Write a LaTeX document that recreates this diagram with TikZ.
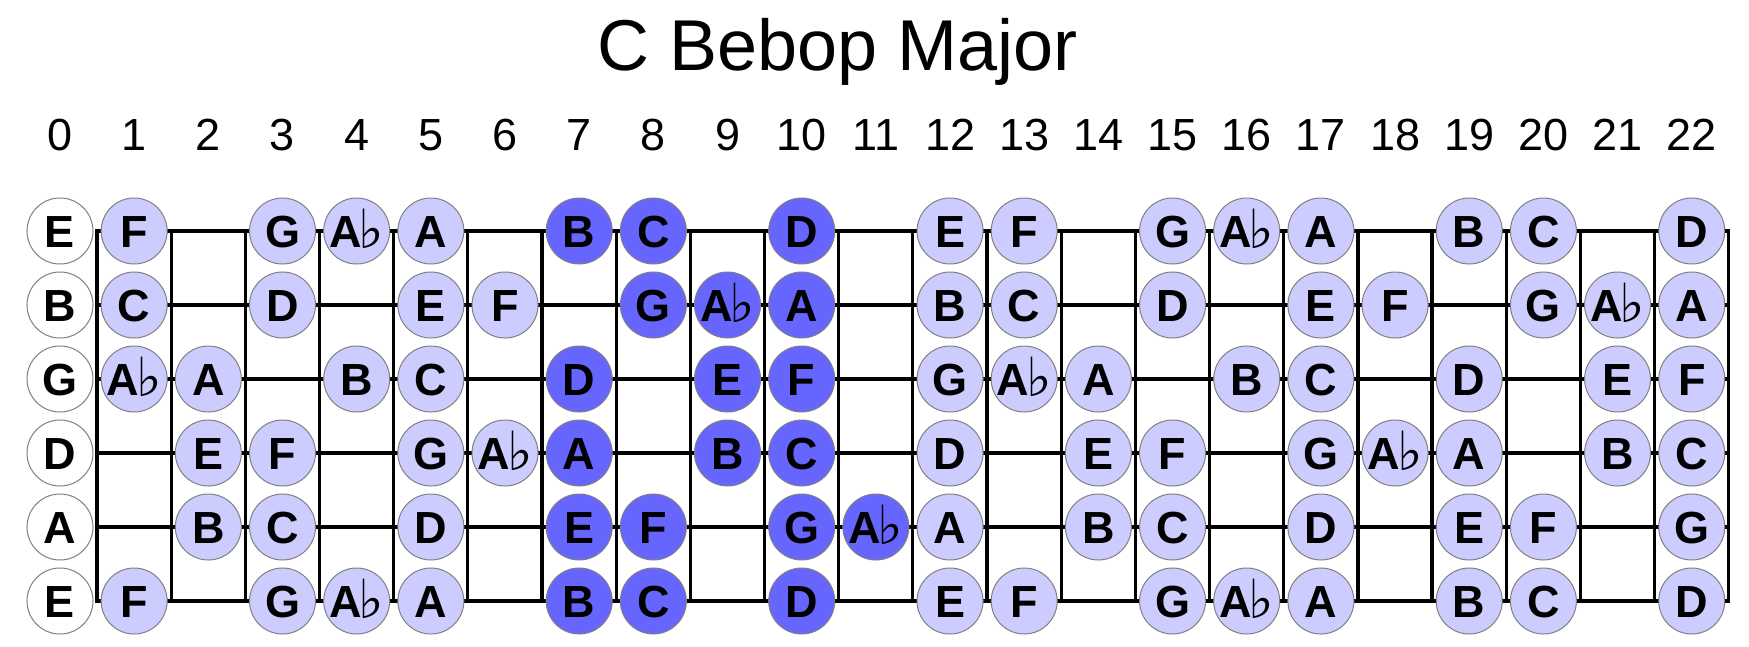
\documentclass[tikz,border=0pt]{standalone}
\usepackage{fontspec}
\setmainfont{Liberation Sans}
\newfontfamily\flatfont{DejaVu Sans}
\definecolor{lightnote}{HTML}{CCCCFF}
\definecolor{darknote}{HTML}{6666FF}
\definecolor{ringgray}{HTML}{808080}
\newcommand{\Aflat}{A\kern-3pt{\flatfont\mdseries\fontsize{54pt}{54pt}\selectfont\raisebox{-1pt}{♭}}}
\tikzset{
  note/.style={circle, draw=ringgray, line width=1pt, minimum size=66pt, inner sep=0pt,
    font=\fontsize{45pt}{45pt}\selectfont\bfseries, text height=32pt, text depth=0pt},
  lt/.style={fill=lightnote},
  dk/.style={fill=darknote},
  op/.style={fill=white},
  fretline/.style={line width=3.2pt, line cap=rect},
  fretnum/.style={font=\fontsize{45pt}{45pt}\selectfont, text height=32pt, text depth=0pt, inner sep=0pt},
}
\begin{document}
\begin{tikzpicture}[x=1pt,y=-1pt]
\useasboundingbox (0,0) rectangle (1749,646);
% title
\node[font=\fontsize{72pt}{72pt}\selectfont, anchor=base, inner sep=0pt] (title) at (837.5,70) {C Bebop Major};
% fret numbers
\foreach \f in {0,...,22} \node[fretnum] (fn\f) at ({60+74.17*\f},134) {\f};
% strings
\foreach \r in {1,...,6} \draw[fretline] (97,{231+74*(\r-1)}) -- (1728.7,{231+74*(\r-1)});
% frets
\foreach \f in {0,...,22} \draw[fretline] ({97+74.17*\f},231) -- ({97+74.17*\f},601);
% open strings
\foreach \r/\t in {1/E,2/B,3/G,4/D,5/A,6/E}
  \node[note,op] (n\r-0) at (60,{231+74*(\r-1)}) {\t};
% notes
\foreach \r/\lst in {
 1/{1/F/lt,3/G/lt,4/\Aflat/lt,5/A/lt,7/B/dk,8/C/dk,10/D/dk,12/E/lt,13/F/lt,15/G/lt,16/\Aflat/lt,17/A/lt,19/B/lt,20/C/lt,22/D/lt},
 2/{1/C/lt,3/D/lt,5/E/lt,6/F/lt,8/G/dk,9/\Aflat/dk,10/A/dk,12/B/lt,13/C/lt,15/D/lt,17/E/lt,18/F/lt,20/G/lt,21/\Aflat/lt,22/A/lt},
 3/{1/\Aflat/lt,2/A/lt,4/B/lt,5/C/lt,7/D/dk,9/E/dk,10/F/dk,12/G/lt,13/\Aflat/lt,14/A/lt,16/B/lt,17/C/lt,19/D/lt,21/E/lt,22/F/lt},
 4/{2/E/lt,3/F/lt,5/G/lt,6/\Aflat/lt,7/A/dk,9/B/dk,10/C/dk,12/D/lt,14/E/lt,15/F/lt,17/G/lt,18/\Aflat/lt,19/A/lt,21/B/lt,22/C/lt},
 5/{2/B/lt,3/C/lt,5/D/lt,7/E/dk,8/F/dk,10/G/dk,11/\Aflat/dk,12/A/lt,14/B/lt,15/C/lt,17/D/lt,19/E/lt,20/F/lt,22/G/lt},
 6/{1/F/lt,3/G/lt,4/\Aflat/lt,5/A/lt,7/B/dk,8/C/dk,10/D/dk,12/E/lt,13/F/lt,15/G/lt,16/\Aflat/lt,17/A/lt,19/B/lt,20/C/lt,22/D/lt}}
{
  \foreach \f/\t/\s in \lst
    \node[note,\s] (n\r-\f) at ({60+74.17*\f},{231+74*(\r-1)}) {\t};
}
\end{tikzpicture}
\end{document}
